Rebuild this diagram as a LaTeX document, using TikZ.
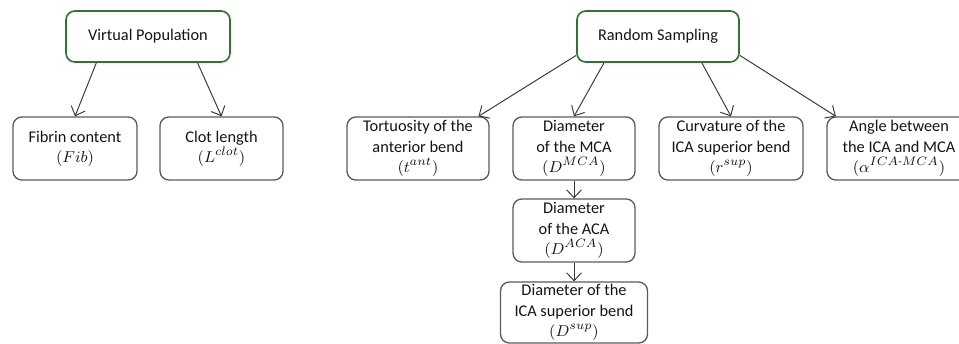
\documentclass[tikz,border=0pt]{standalone}
\usepackage{amsmath}
\usepackage{fontspec}
\setmainfont{Carlito}
\usetikzlibrary{arrows.meta}

\definecolor{boxgreen}{RGB}{46,118,50}
\definecolor{boxgray}{RGB}{90,90,90}
\definecolor{linegray}{RGB}{55,55,55}

\begin{document}
\begin{tikzpicture}[x=0.02cm, y=-0.02cm, -{Straight Barb[length=4.5pt,width=8.5pt]},
	draw=linegray, line width=0.55pt,
	box/.style={draw=boxgray, line width=0.75pt, rounded corners=5pt, align=center,
		text=black!92, font=\fontsize{9.3}{11.6}\selectfont, inner sep=1pt,
		minimum height=1.26cm},
	topbox/.style={box, draw=boxgreen, line width=0.95pt, minimum height=1.02cm}]
	\useasboundingbox (0,0) rectangle (959,344);
	\clip (0,0) rectangle (959,344);

	\node[topbox, minimum width=3.28cm] (VP) at (148,36.5) {Virtual Population};
	\node[box, minimum width=2.48cm] (Fib) at (75,148.5) {Fibrin content\\$(Fib)$};
	\node[box, minimum width=2.46cm] (Clot) at (221.5,148.5) {Clot length\\$(L^{clot})$};

	\node[topbox, minimum width=3.24cm] (RS) at (658,36.5) {Random Sampling};
	\node[box, minimum width=2.84cm] (Tort) at (418,148.5) {Tortuosity of the\\anterior bend\\$(t^{ant})$};
	\node[box, minimum width=2.44cm] (MCA) at (574,148.5) {Diameter\\of the MCA\\$(D^{MCA})$};
	\node[box, minimum width=2.88cm] (Curv) at (731,148.5) {Curvature of the\\ICA superior bend\\$(r^{sup})$};
	\node[box, minimum width=2.88cm] (Angle) at (899,148.5) {Angle between\\the ICA and MCA\\$(\alpha^{ICA\text{-}MCA})$};
	\node[box, minimum width=2.44cm] (ACA) at (574,230.5) {Diameter\\of the ACA\\$(D^{ACA})$};
	\node[box, minimum width=2.94cm, minimum height=1.22cm] (Sup) at (574,312.5) {Diameter of the\\ICA superior bend\\$(D^{sup})$};

	\draw (VP.207) -- (Fib.north);
	\draw (VP.332) -- (Clot.north);

	\draw (RS.193) -- (Tort.28);
	\draw (RS.206) -- (MCA.north);
	\draw (RS.329) -- (Curv.north);
	\draw (RS.347) -- (Angle.153);
	\draw (MCA) -- (ACA);
	\draw (ACA) -- (Sup);
\end{tikzpicture}
\end{document}
